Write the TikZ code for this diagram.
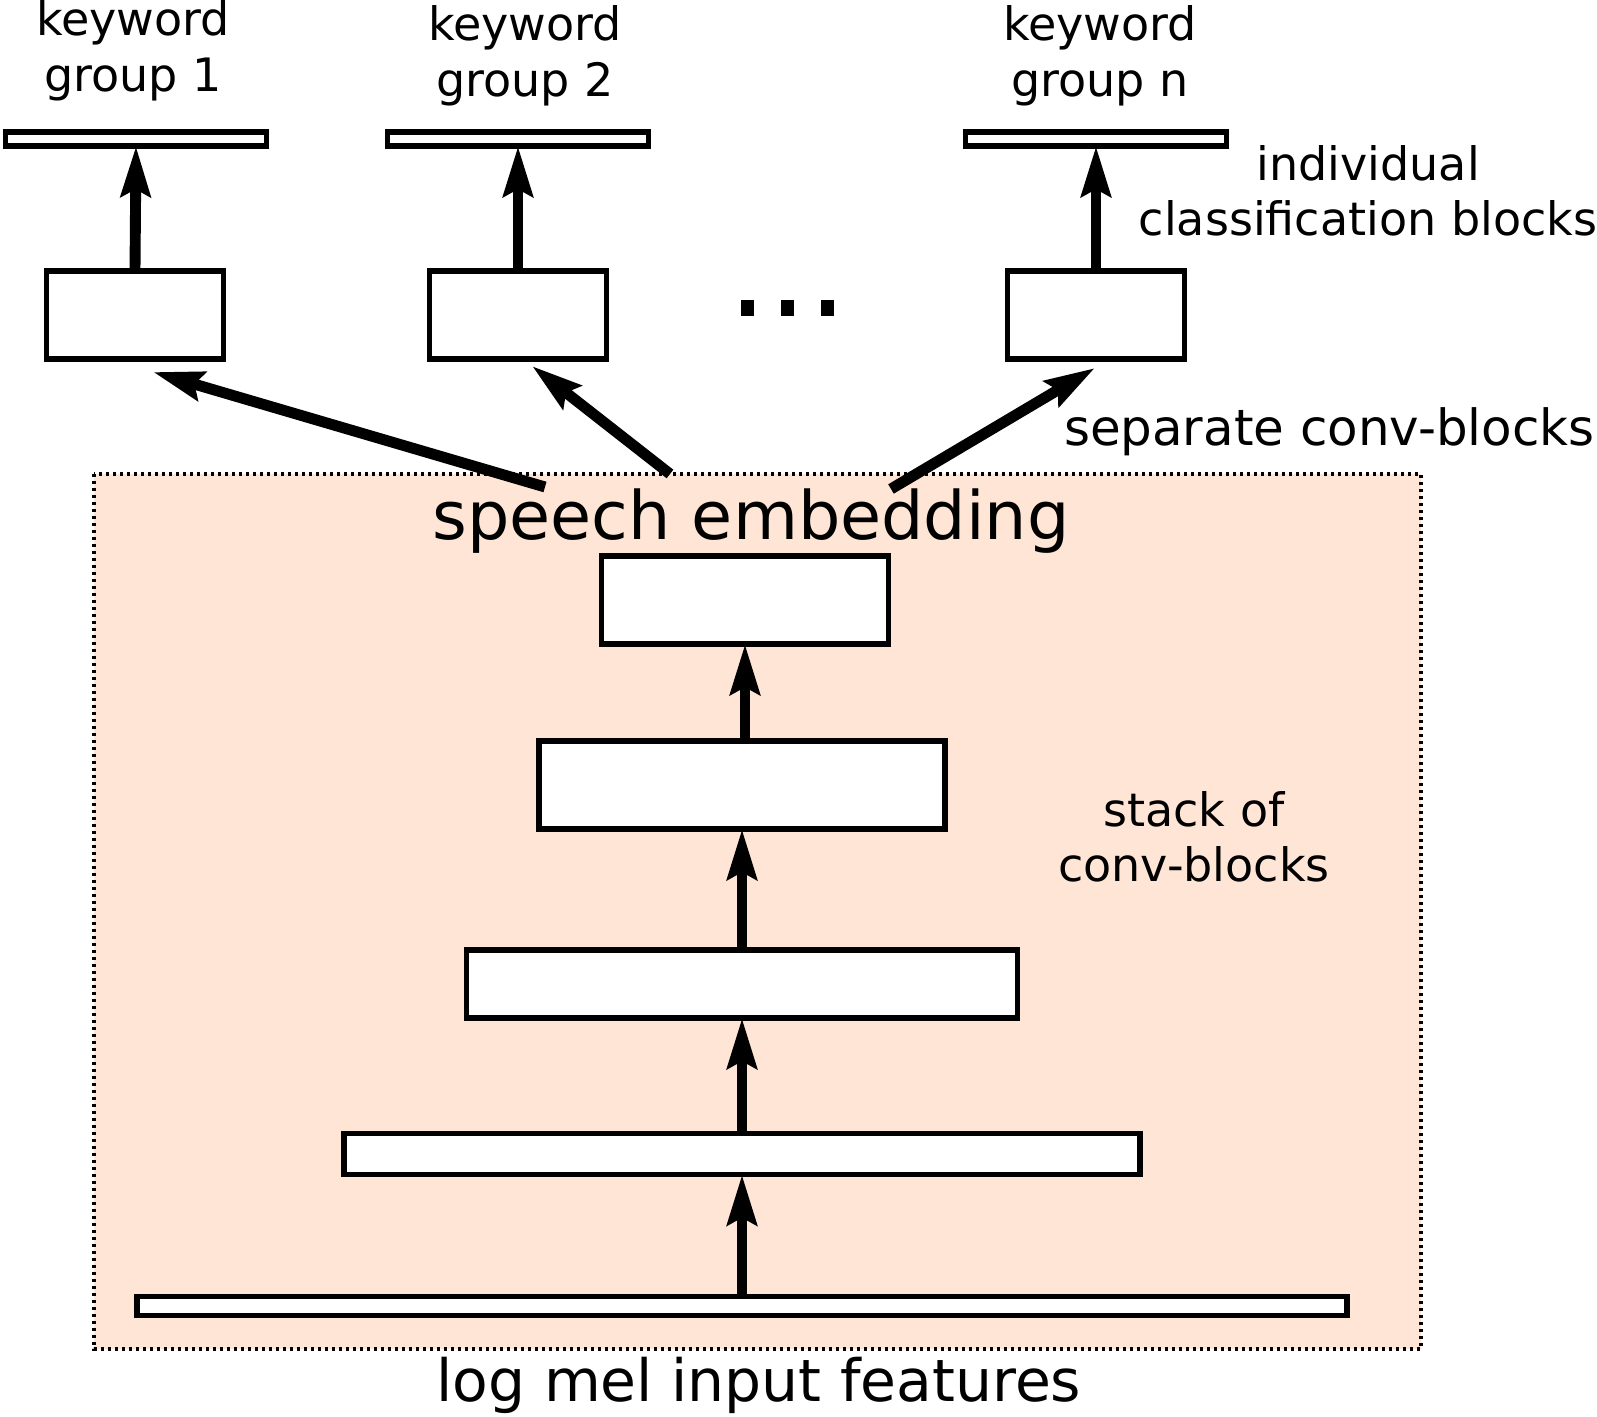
\documentclass[tikz,border=0pt]{standalone}
\usepackage{fontspec}
\setmainfont{DejaVu Sans}
\usetikzlibrary{arrows.meta}
\definecolor{embfill}{RGB}{255,229,213}
\begin{document}
\begin{tikzpicture}[x=0.1mm, y=-0.1mm]
            \tikzstyle{every node}=[inner sep=0pt, outer sep=0pt, text=black]
            \tikzstyle{block}=[draw=black, fill=white, line width=1.45pt]
            \tikzstyle{small}=[font=\fontsize{13.1}{15.8}\selectfont, align=center]
            \tikzstyle{large}=[font=\fontsize{19}{22}\selectfont]
            \tikzstyle{edge}=[black, line width=3.1pt, -{Stealth[length=5mm, width=2.9mm, inset=0.7mm]}]

            \useasboundingbox (0,0) rectangle (1597,1417);
            \draw[fill=embfill, line width=0.35mm, dash pattern=on 0.35mm off 0.35mm] (94,474) rectangle (1421,1349);

            % keyword groups
            \node[block, minimum width=26.1mm, minimum height=1.4mm] (bar1) at (136,139) {};
            \node[block, minimum width=26.1mm, minimum height=1.4mm] (bar2) at (518,139) {};
            \node[block, minimum width=26.1mm, minimum height=1.4mm] (bar3) at (1096,139) {};
            \node[block, minimum width=17.7mm, minimum height=8.8mm] (box1) at (135,315) {};
            \node[block, minimum width=17.7mm, minimum height=8.8mm] (box2) at (518,315) {};
            \node[block, minimum width=17.7mm, minimum height=8.8mm] (box3) at (1096,315) {};
            \node[small] (kw1) at (133,51) {keyword\\group 1};
            \node[small] (kw2) at (525,56) {keyword\\group 2};
            \node[small] (kwn) at (1100,56) {keyword\\group n};
            \foreach \x in {747,787,827}
                \fill (\x-6.5,300) rectangle (\x+6.5,316);

            \node[small] (cls) at (1368,191) {individual\\classification blocks};
            \node[small, anchor=west, font=\fontsize{14.2}{16}\selectfont] (sep) at (1064,432) {separate conv-blocks};

            % embedding stack
            \node[large] (emb) at (751,521) {speech embedding};
            \node[block, minimum width=28.7mm, minimum height=8.8mm] (E) at (745,600) {};
            \node[block, minimum width=40.6mm, minimum height=8.8mm] (S1) at (742,785) {};
            \node[block, minimum width=55.1mm, minimum height=6.8mm] (S2) at (742,984) {};
            \node[block, minimum width=79.6mm, minimum height=4.1mm] (S3) at (742,1154) {};
            \node[block, minimum width=121.0mm, minimum height=1.9mm] (in) at (742,1306) {};
            \node[small] (stk) at (1194,837) {stack of\\conv-blocks};
            \node[large, font=\fontsize{16.6}{20}\selectfont] (mel) at (759,1385) {log mel input features};

            \coordinate (e1) at (545,487);
            \coordinate (e2) at (670,474);
            \coordinate (e3) at (891,489);

            \draw[edge] (in.north) -- (S3.south);
            \draw[edge] (S3.north) -- (S2.south);
            \draw[edge] (S2.north) -- (S1.south);
            \draw[edge] ([xshift=0.3mm]S1.north) -- ([xshift=0.3mm]S1.north |- E.south);
            \draw[edge] (e1) -- ([shift={(18,13)}]box1.south);
            \draw[edge] (e2) -- ([shift={(14,7)}]box2.south);
            \draw[edge] (e3) -- ([shift={(-1,9)}]box3.south);
            \draw[edge] (box1.north) -- (bar1.south);
            \draw[edge] (box2.north) -- (bar2.south);
            \draw[edge] (box3.north) -- (bar3.south);
\end{tikzpicture}
\end{document}
